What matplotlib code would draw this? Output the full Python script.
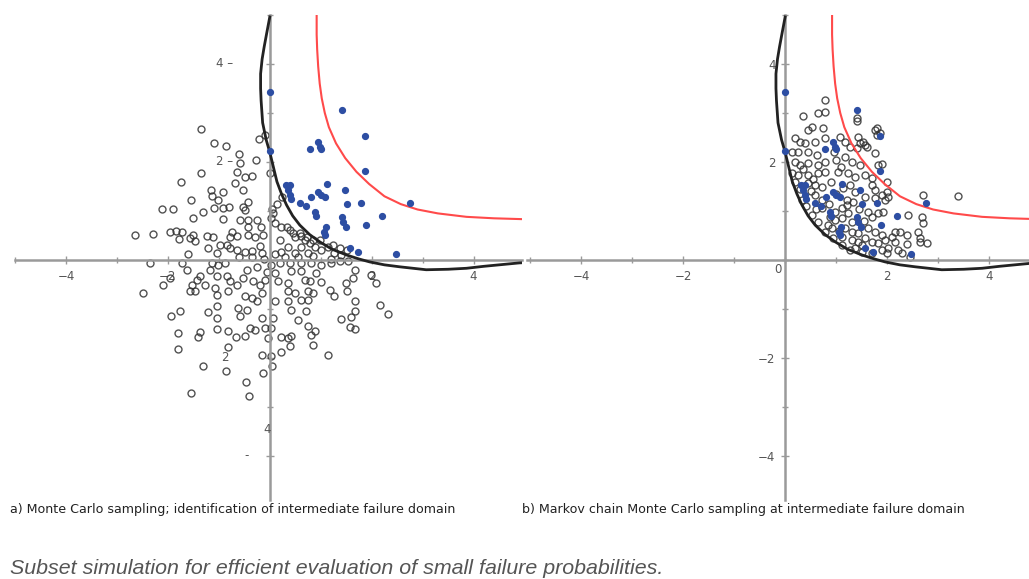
import numpy as np
import matplotlib.pyplot as plt
from matplotlib.ticker import MultipleLocator

# intermediate limit state (black) and target limit state (red)
limit_x = [0.0, -0.06, -0.11, -0.15, -0.18, -0.18, -0.17, -0.14, -0.07, 0.0, 0.07, 0.14, 0.23, 0.33, 0.45,
           0.59, 0.78, 0.98, 1.22, 1.51, 1.75, 1.96, 2.25, 2.55, 3.07, 3.5, 3.86, 4.2, 4.5, 4.9, 5.1]
limit_y = [4.96, 4.63, 4.35, 4.1, 3.8, 3.5, 3.25, 2.8, 2.45, 2.2, 1.9, 1.6, 1.35, 1.12, 0.9,
           0.71, 0.52, 0.37, 0.22, 0.10, 0.02, -0.04, -0.1, -0.14, -0.2, -0.19, -0.17, -0.13, -0.1, -0.06, -0.05]

target_x = [0.92, 0.92, 0.93, 0.95, 0.98, 1.02, 1.08, 1.16, 1.3, 1.48, 1.7, 1.95, 2.25, 2.57, 2.9, 3.3, 3.86, 4.4, 5.05]
target_y = [5.1, 4.6, 4.3, 3.95, 3.6, 3.3, 3.0, 2.71, 2.38, 2.08, 1.8, 1.55, 1.3, 1.14, 1.03, 0.95, 0.88, 0.85, 0.83]

# samples that fall in the intermediate failure domain (blue seeds)
seed_pts = [(0, 3.43), (1.41, 3.06), (1.86, 2.53), (0.78, 2.27), (0.94, 2.41), (0.98, 2.31), (1.0, 2.27),
            (0, 2.22), (1.86, 1.82), (2.76, 1.16), (0.31, 1.53), (0.39, 1.53), (0.35, 1.43), (0.39, 1.33),
            (0.41, 1.25), (1.12, 1.55), (1.47, 1.43), (0.94, 1.39), (1.0, 1.33), (1.08, 1.29), (0.8, 1.29),
            (0.59, 1.16), (0.71, 1.1), (1.51, 1.14), (1.8, 1.16), (0.88, 0.98), (0.9, 0.9), (2.2, 0.9),
            (1.41, 0.88), (1.43, 0.78), (1.49, 0.67), (1.88, 0.71), (1.1, 0.67), (1.06, 0.57), (1.08, 0.51),
            (1.57, 0.24), (1.73, 0.16), (2.47, 0.13)]

# plain Monte Carlo samples (left panel)
mc_pts = [(-1.35, 2.67), (-1.1, 2.39), (-0.86, 2.33), (-0.22, 2.47), (-0.61, 2.16), (-0.27, 2.04), (-0.59, 1.98),
          (-0.65, 1.8), (-0.49, 1.69), (-0.35, 1.71), (-1.35, 1.78), (-1.75, 1.59), (-0.69, 1.57), (-0.53, 1.43),
          (-1.16, 1.43), (-1.14, 1.31), (-0.92, 1.39), (-1.02, 1.22), (-1.55, 1.22), (-0.43, 1.18), (-2.12, 1.04),
          (-1.9, 1.04), (-1.31, 0.98), (-1.1, 1.06), (-0.92, 1.06), (-0.8, 1.08), (-0.53, 1.08), (-0.49, 1.02),
          (-1.51, 0.86), (-0.92, 0.84), (-0.59, 0.82), (-0.43, 0.82), (-0.25, 0.82), (-0.43, 0.67), (-0.18, 0.67),
          (-2.65, 0.51), (-2.29, 0.53), (-1.96, 0.57), (-1.84, 0.59), (-1.73, 0.57), (-1.78, 0.43), (-1.51, 0.51),
          (-1.57, 0.45), (-1.47, 0.39), (-1.24, 0.49), (-1.12, 0.47), (-0.75, 0.57), (-0.78, 0.47), (-0.65, 0.49),
          (-0.43, 0.51), (-0.29, 0.47), (-0.14, 0.51), (-0.98, 0.31), (-0.84, 0.31), (-0.78, 0.24), (-0.65, 0.2),
          (-0.49, 0.16), (-0.35, 0.18), (-1.22, 0.24), (-1.04, 0.14), (-1.61, 0.12), (-0.2, 0.29), (-0.16, 0.14),
          (-0.1, 2.55), (0, 1.78), (0.04, 1.04), (0.06, 0.96), (0.24, 1.29), (0.33, 0.67), (0.39, 0.61),
          (0.45, 0.55), (0.59, 0.55), (0.73, 0.47), (0.84, 0.41), (0.98, 0.41), (1.24, 0.3), (1.37, 0.24),
          (1.51, 0.2), (0.02, 0.86), (0.22, 0.67), (0.49, 0.47), (0.61, 0.49), (0.69, 0.41), (0.78, 0.35),
          (0.88, 0.27), (0.61, 0.27), (0.35, 0.27), (0.2, 0.41), (0.22, 0.16), (0.49, 0.14), (0.75, 0.14),
          (1.0, 0.2), (1.14, 0.27), (1.27, 0.14), (1.39, 0.1), (0.1, 0.75), (0.15, 1.15),
          (-2.35, -0.06), (-1.73, -0.06), (-1.63, -0.2), (-1.96, -0.37), (-2.1, -0.51), (-2.49, -0.67),
          (-1.37, -0.33), (-1.43, -0.41), (-1.53, -0.51), (-1.57, -0.63), (-1.47, -0.63), (-1.18, -0.2),
          (-1.14, -0.06), (-1.02, -0.1), (-0.88, -0.06), (-1.04, -0.33), (-0.84, -0.33), (-0.78, -0.43),
          (-0.65, -0.51), (-0.53, -0.37), (-0.33, -0.43), (-0.2, -0.51), (-0.1, -0.41), (-1.27, -0.51),
          (-1.08, -0.57), (-0.82, -0.63), (-1.04, -0.71), (-0.49, -0.73), (-0.35, -0.78), (-0.25, -0.84),
          (-0.16, -0.67), (-1.76, -1.04), (-1.94, -1.14), (-1.22, -1.06), (-1.04, -0.94), (-1.04, -1.18),
          (-0.63, -0.98), (-0.45, -1.02), (-0.59, -1.14), (-0.16, -1.18), (-1.8, -1.49), (-1.37, -1.47),
          (-1.41, -1.57), (-1.04, -1.41), (-0.82, -1.45), (-0.67, -1.57), (-0.49, -1.55), (-0.39, -1.39),
          (-0.29, -1.43), (-0.1, -1.39), (-0.04, -1.59), (-1.8, -1.82), (-0.82, -1.78), (-0.16, -1.94),
          (-1.31, -2.16), (-0.86, -2.27), (-0.14, -2.31), (-0.47, -2.49), (-1.55, -2.71), (-0.41, -2.78),
          (0.04, -2.16), (0.02, -1.96), (0.22, -1.88), (0.39, -1.76), (0.84, -1.73), (1.14, -1.94),
          (0.02, -0.1), (0.2, -0.06), (0.39, -0.06), (0.61, -0.06), (0.8, -0.06), (1.0, -0.1), (1.2, -0.06),
          (1.37, -0.02), (1.53, -0.02), (0.1, -0.27), (0.41, -0.22), (0.61, -0.22), (0.9, -0.27), (0.16, -0.43),
          (0.35, -0.47), (0.69, -0.41), (0.78, -0.43), (1.0, -0.45), (1.67, -0.2), (1.63, -0.37), (2.08, -0.47),
          (1.98, -0.31), (1.49, -0.47), (1.51, -0.63), (0.35, -0.63), (0.49, -0.67), (0.75, -0.63), (0.84, -0.67),
          (1.18, -0.61), (1.27, -0.73), (0.1, -0.84), (0.35, -0.84), (0.61, -0.82), (0.75, -0.82), (1.67, -0.84),
          (1.67, -1.04), (2.16, -0.92), (2.33, -1.1), (0.71, -1.04), (0.41, -1.02), (0.55, -1.22), (0.75, -1.35),
          (1.39, -1.2), (1.59, -1.16), (1.57, -1.37), (1.67, -1.41), (0.88, -1.45), (0.8, -1.53), (0.22, -1.57),
          (0.35, -1.59), (0.41, -1.55), (0.06, -1.18), (0.02, -1.39),
          (-0.35, 0.05), (-0.12, 0.02), (0.1, 0.12), (-0.25, -0.15), (-0.05, -0.25), (-0.6, 0.05),
          (-0.45, -0.2), (0.3, 0.05), (0.55, 0.05), (0.85, 0.08), (1.2, 0.02)]

# Markov chain samples started from the seeds (right panel)
mcmc_pts = [(0.78, 3.27), (0.35, 2.94), (0.65, 3.0), (0.78, 3.02), (0.53, 2.71), (0.45, 2.65), (0.75, 2.69),
            (0.78, 2.49), (0.2, 2.49), (0.29, 2.41), (0.39, 2.39), (0.59, 2.41), (0.14, 2.2), (0.25, 2.2),
            (0.45, 2.2), (0.63, 2.14), (1.08, 2.51), (1.18, 2.41), (1.43, 2.51), (1.53, 2.41), (1.57, 2.35),
            (1.76, 2.65), (1.8, 2.55), (1.27, 2.31), (1.41, 2.29), (0.2, 2.0), (0.29, 1.94), (0.45, 1.98),
            (0.65, 1.94), (0.78, 2.0), (1.18, 2.1), (1.31, 2.0), (1.47, 1.94), (1.76, 2.18), (1.82, 1.94),
            (1.9, 1.96), (0.14, 1.78), (0.25, 1.73), (0.45, 1.73), (0.65, 1.78), (0.78, 1.8), (1.04, 1.8),
            (1.24, 1.78), (1.37, 1.69), (1.57, 1.73), (1.71, 1.67), (0.45, 1.57), (0.59, 1.53), (0.73, 1.49),
            (1.14, 1.47), (1.27, 1.53), (1.37, 1.39), (1.71, 1.53), (1.76, 1.43), (0.59, 1.33), (0.73, 1.22),
            (1.22, 1.22), (1.33, 1.18), (1.22, 1.12), (1.12, 1.06), (0.98, 0.98), (1.57, 1.29), (1.76, 1.27),
            (1.9, 1.33), (0.73, 1.06), (0.88, 0.88), (0.98, 0.82), (1.12, 0.86), (1.24, 0.96), (1.31, 0.78),
            (1.63, 0.98), (1.71, 0.88), (1.82, 0.96), (1.92, 0.98), (0.84, 0.71), (0.92, 0.65), (1.18, 0.65),
            (1.31, 0.57), (1.43, 0.55), (1.63, 0.65), (1.76, 0.57), (1.9, 0.51), (1.12, 0.47), (1.31, 0.41),
            (1.43, 0.37), (1.57, 0.45), (1.71, 0.37), (1.82, 0.35), (1.96, 0.41), (1.37, 0.24), (1.51, 0.16),
            (1.71, 0.14), (1.9, 0.2), (2.0, 0.14), (0.2, 1.59), (0.33, 1.22), (0.53, 0.92), (0.65, 0.78),
            (0.78, 0.57), (0.94, 0.45), (1.12, 0.31), (1.27, 0.2), (2.0, 1.59), (2.0, 1.39), (2.02, 1.29),
            (2.71, 1.33), (3.39, 1.31), (2.41, 0.92), (2.69, 0.88), (2.71, 0.76), (2.61, 0.57), (2.16, 0.57),
            (2.25, 0.57), (2.39, 0.51), (2.1, 0.47), (2.16, 0.37), (2.39, 0.33), (2.65, 0.37), (2.78, 0.35),
            (2.02, 0.24), (2.22, 0.2), (2.29, 0.14), (2.45, 0.06), (1.8, 2.69), (1.86, 2.59), (1.41, 2.9),
            (1.96, 1.22), (2.65, 0.45), (1.61, 2.31), (1.47, 2.39), (1.41, 2.84), (0.35, 1.85), (0.55, 1.65),
            (0.9, 1.6), (1.0, 1.35), (0.5, 1.4), (0.85, 1.15), (1.45, 1.05), (1.55, 0.8), (1.05, 0.6),
            (1.5, 0.3), (0.95, 2.2), (1.0, 2.05), (0.6, 1.05), (0.3, 1.45), (0.4, 1.1), (1.1, 1.9)]

captions = ['a) Monte Carlo sampling; identification of intermediate failure domain',
            'b) Markov chain Monte Carlo sampling at intermediate failure domain']
title = 'Subset simulation for efficient evaluation of small failure probabilities.'

seed = np.array(seed_pts).T
mc = np.array(mc_pts).T
mcmc = np.array(mcmc_pts).T

W, H = 1029, 579
fig = plt.figure(figsize=(W / 100, H / 100), dpi=100)
ax1 = fig.add_axes([15 / W, 1 - 500 / H, 507 / W, 485 / H])
ax2 = fig.add_axes([527 / W, 1 - 500 / H, 502 / W, 485 / H])

axis_col = '#9a9a9a'
label_col = '#555555'


def style_axes(ax, xmin, xmax):
    ax.set_xlim(xmin, xmax)
    ax.set_ylim(-4.9, 5.0)
    for side in ['top', 'right']:
        ax.spines[side].set_visible(False)
    for side in ['left', 'bottom']:
        ax.spines[side].set_position(('data', 0))
        ax.spines[side].set_color(axis_col)
        ax.spines[side].set_linewidth(1.8)
    ax.xaxis.set_major_locator(MultipleLocator(2))
    ax.yaxis.set_major_locator(MultipleLocator(2))
    ax.xaxis.set_minor_locator(MultipleLocator(1))
    ax.yaxis.set_minor_locator(MultipleLocator(1))
    ax.tick_params(which='major', direction='inout', length=6, width=1, color=axis_col,
                   labelsize=8.5, labelcolor=label_col, pad=4)
    ax.tick_params(which='minor', direction='inout', length=4, width=1, color=axis_col)
    ax.patch.set_alpha(0)


def draw(ax, pts):
    ax.plot(limit_x, limit_y, color='#222222', lw=2, zorder=3)
    ax.plot(target_x, target_y, color='#ff4a4a', lw=1.5, zorder=3)
    ax.plot(pts[0], pts[1], 'o', mfc='none', mec='#333333', mew=1.0, ms=5, alpha=0.85, zorder=2)
    ax.plot(seed[0], seed[1], 'o', color='#2d4ea3', ms=4.2, zorder=4)


style_axes(ax1, -5.0, 4.95)
draw(ax1, mc)
ax1.set_xticks([-4, -2, 2, 4])
ax1.set_yticks([-4, -2, 2, 4])
ax1.set_yticklabels([])
# the left panel carries its y labels off to the side, as in the source figure
for yv, lab in [(4, '4 \u2013'), (2, '2 \u2013'), (-2, '2')]:
    ax1.text(-0.88, yv, lab, ha='center', va='center', fontsize=8.5, color=label_col)
ax1.text(-0.06, -3.47, '4', ha='center', va='center', fontsize=8.5, color=label_col)
ax1.text(-0.45, -3.99, '-', ha='center', va='center', fontsize=8.5, color=label_col)

style_axes(ax2, -5.06, 4.78)
draw(ax2, mcmc)
ax2.set_xticks([-4, -2, 2, 4])
ax2.set_yticks([-4, -2, 2, 4])
ax2.text(-0.15, -0.2, '0', ha='center', va='center', fontsize=8.5, color=label_col)

for ax, cap in zip([ax1, ax2], captions):
    fig.text(ax.get_position().x0 - 5 / W, 1 - 510 / H, cap, ha='left', va='center',
             fontsize=9.1, color='#222222')

fig.text(10 / W, 1 - 569 / H, title, ha='left', va='center', fontsize=15.4, style='italic',
         color='#555555', family=['Liberation Sans', 'DejaVu Sans'])

fig.savefig('out.png', dpi=100)
